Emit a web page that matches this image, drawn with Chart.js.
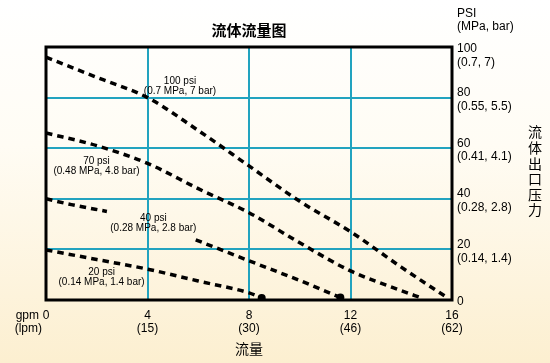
<!DOCTYPE html>
<html>
<head>
<meta charset="utf-8">
<script src="https://cdn.jsdelivr.net/npm/chart.js@4.4.0/dist/chart.umd.min.js"></script>
<style>
  html, body { margin: 0; padding: 0; }
  body {
    width: 550px; height: 363px;
    background: linear-gradient(to bottom, #ffffff 0%, #fffcf4 40%, #fcefd0 100%);
  }
  canvas { display: block; }
</style>
</head>
<body>
<canvas id="flowChart" width="550" height="363"></canvas>
<script>
// axis ticks
const flowTicks = [0, 4, 8, 12, 16];
const flowTickLabels = [['0', ''], ['4', '(15)'], ['8', '(30)'], ['12', '(46)'], ['16', '(62)']];
const pressureTicks = [0, 20, 40, 60, 80, 100];
const pressureTickLabels = ['0', ['20', '(0.14, 1.4)'], ['40', '(0.28, 2.8)'], ['60', '(0.41, 4.1)'],
  ['80', '(0.55, 5.5)'], ['', '100', '(0.7, 7)']];

// curves (gpm -> outlet psi)
const gpm100 = [0, 2, 4, 6, 8, 10, 12, 14, 15.8];
const psi100 = [96, 88, 80, 67, 53, 39, 27, 13, 1];
const gpm70 = [0, 2, 4, 6, 8, 10, 12, 14, 14.8];
const psi70 = [66, 61, 54, 44, 34.5, 22.6, 11.5, 3.7, 0.8];
const gpm40 = [0, 1, 2.4, 4, 5.9, 8, 10, 11.6];
const psi40 = [40, 37.7, 35, null, 23.8, 15.5, 7.7, 1];
const gpm20 = [0, 2, 4, 6, 8, 8.5];
const psi20 = [19.8, 16, 12.2, 7.5, 2.8, 0.8];

const curveNames = [['100 psi', '(0.7 MPa, 7 bar)'], ['70 psi', '(0.48 MPa, 4.8 bar)'],
  ['40 psi', '(0.28 MPa, 2.8 bar)'], ['20 psi', '(0.14 MPa, 1.4 bar)']];
const curveNameAt = [[5.28, 84.5], [1.99, 52.8], [4.23, 30.5], [2.19, 8.9]];

const teal = '#22a3bf';
const latin = '"Liberation Sans", Arial, sans-serif';
const cjk = '"Noto Sans CJK SC", sans-serif';

function curve(xs, ys, endDot) {
    return {
        data: xs.map((v, i) => ({ x: v, y: ys[i] })),
        borderColor: '#000',
        backgroundColor: '#000',
        borderWidth: 3.5,
        borderDash: [6.5, 5],
        fill: false,
        spanGaps: false,
        cubicInterpolationMode: 'monotone',
        pointRadius: xs.map((v, i) => (endDot && i === xs.length - 1) ? 4 : 0),
        pointBorderWidth: 0
    };
}

const frameAndText = {
    id: 'frameAndText',
    beforeDatasetsDraw(chart) {
        const { ctx, chartArea: a } = chart;
        ctx.save();
        ctx.strokeStyle = '#000';
        ctx.lineWidth = 3;
        ctx.strokeRect(a.left, a.top, a.right - a.left, a.bottom - a.top);
        ctx.restore();
    },
    afterDraw(chart) {
        const { ctx, chartArea: a, scales: { x, y } } = chart;
        ctx.save();
        ctx.fillStyle = '#000';
        ctx.textBaseline = 'middle';

        ctx.textAlign = 'center';
        ctx.font = 'bold 15px ' + cjk;
        ctx.fillText('流体流量图', (a.left + a.right) / 2, 30);

        ctx.textAlign = 'left';
        ctx.font = '12px ' + latin;
        ctx.fillText('PSI', a.right + 5, 14);
        ctx.fillText('(MPa, bar)', a.right + 5, 27);

        ctx.textAlign = 'right';
        const x0 = x.getPixelForValue(0);
        ctx.fillText('gpm', x0 - 7, 316);
        ctx.fillText('(lpm)', x0 - 4, 329);

        ctx.textAlign = 'center';
        ctx.font = '14px ' + cjk;
        Array.from('流体出口压力').forEach((ch, i) => ctx.fillText(ch, 535, 132 + i * 15.6));

        ctx.font = '10px ' + latin;
        curveNames.forEach((lines, i) => {
            const px = x.getPixelForValue(curveNameAt[i][0]);
            const py = y.getPixelForValue(curveNameAt[i][1]);
            ctx.fillText(lines[0], px, py - 5);
            ctx.fillText(lines[1], px, py + 5);
        });
        ctx.restore();
    }
};

new Chart(document.getElementById('flowChart').getContext('2d'), {
    type: 'line',
    data: {
        datasets: [
            curve(gpm100, psi100, false),
            curve(gpm70, psi70, false),
            curve(gpm40, psi40, true),
            curve(gpm20, psi20, true)
        ]
    },
    options: {
        responsive: false,
        animation: false,
        layout: { padding: { left: 46, top: 47, right: 0, bottom: 0 } },
        plugins: { legend: { display: false }, tooltip: { enabled: false } },
        scales: {
            x: {
                type: 'linear',
                min: 0,
                max: 16,
                afterBuildTicks: s => { s.ticks = flowTicks.map(v => ({ value: v })); },
                afterFit: s => { s.height = 63; },
                ticks: {
                    callback: v => flowTickLabels[flowTicks.indexOf(v)],
                    font: { family: latin, size: 12, lineHeight: 1.1 },
                    color: '#000',
                    padding: 9,
                    maxRotation: 0,
                    autoSkip: false
                },
                grid: { color: teal, lineWidth: 2, drawTicks: false },
                border: { display: false },
                title: {
                    display: true,
                    text: '流量',
                    font: { family: cjk, size: 14 },
                    color: '#000',
                    padding: { top: 2, bottom: 6 }
                }
            },
            y: {
                position: 'right',
                min: 0,
                max: 100,
                afterBuildTicks: s => { s.ticks = pressureTicks.map(v => ({ value: v })); },
                afterFit: s => { s.width = 98; },
                ticks: {
                    callback: v => pressureTickLabels[pressureTicks.indexOf(v)],
                    font: { family: latin, size: 12, lineHeight: 1.15 },
                    color: '#000',
                    padding: 5,
                    labelOffset: 2,
                    autoSkip: false
                },
                grid: { color: teal, lineWidth: 2, drawTicks: false },
                border: { display: false }
            }
        }
    },
    plugins: [frameAndText]
});
</script>
</body>
</html>
